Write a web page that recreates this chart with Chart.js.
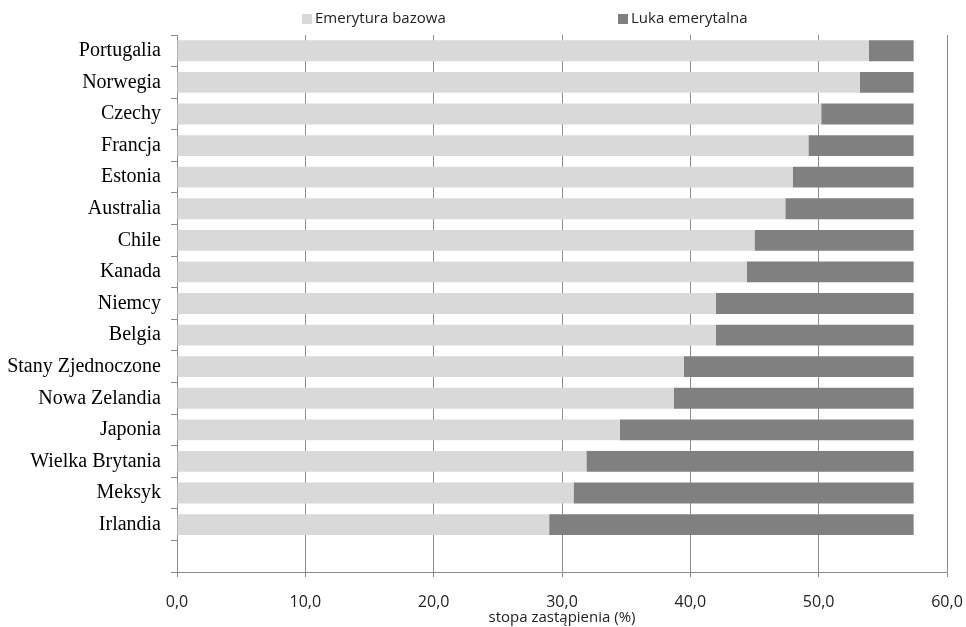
<!DOCTYPE html>
<html>
<head>
<meta charset="utf-8">
<script src="https://cdn.jsdelivr.net/npm/chart.js@4"></script>
<style>
    body { margin: 0; background: #fff; }
</style>
</head>
<body>
<canvas id="myChart" width="966" height="627"></canvas>
<script>
const countries = ['Portugalia', 'Norwegia', 'Czechy', 'Francja', 'Estonia', 'Australia', 'Chile', 'Kanada',
    'Niemcy', 'Belgia', 'Stany Zjednoczone', 'Nowa Zelandia', 'Japonia', 'Wielka Brytania', 'Meksyk', 'Irlandia', ''];
const basePension = [53.9, 53.2, 50.2, 49.2, 48.0, 47.4, 45.0, 44.4, 42.0, 42.0, 39.5, 38.7, 34.5, 31.9, 30.9, 29.0, null];
const pensionGap = [3.5, 4.2, 7.2, 8.2, 9.4, 10.0, 12.4, 13.0, 15.4, 15.4, 17.9, 18.7, 22.9, 25.5, 26.5, 28.4, null];
const seriesNames = ['Emerytura bazowa', 'Luka emerytalna'];
const seriesColors = ['#d9d9d9', '#808080'];

const sansFont = "'Open Sans', 'DejaVu Sans', sans-serif";

// legend drawn by hand, the two items sit far apart
const topLegend = {
    id: 'topLegend',
    afterDraw(chart) {
        const ctx = chart.ctx;
        const spots = [302, 618];
        ctx.save();
        ctx.font = '15px ' + sansFont;
        ctx.textBaseline = 'middle';
        chart.data.datasets.forEach(function (ds, i) {
            ctx.fillStyle = ds.backgroundColor;
            ctx.fillRect(spots[i], 14, 10, 10);
            ctx.fillStyle = '#222';
            ctx.fillText(ds.label, spots[i] + 13, 19);
        });
        ctx.restore();
    }
};

new Chart(document.getElementById('myChart'), {
    type: 'bar',
    data: {
        labels: countries,
        datasets: [
            { label: seriesNames[0], data: basePension, backgroundColor: seriesColors[0] },
            { label: seriesNames[1], data: pensionGap, backgroundColor: seriesColors[1] }
        ]
    },
    options: {
        indexAxis: 'y',
        responsive: false,
        animation: false,
        barPercentage: 0.66,
        categoryPercentage: 1,
        layout: { padding: { top: 35, right: 19, left: 0, bottom: 0 } },
        plugins: {
            legend: { display: false },
            tooltip: { enabled: false }
        },
        scales: {
            x: {
                stacked: true,
                min: 0,
                max: 60,
                ticks: {
                    stepSize: 10,
                    color: '#222',
                    font: { family: sansFont, size: 16 },
                    padding: 16,
                    callback: function (v) { return v.toFixed(1).replace('.', ','); }
                },
                grid: { color: '#8c8c8c', tickLength: 5 },
                border: { color: '#8c8c8c' },
                title: {
                    display: true,
                    text: 'stopa zastąpienia (%)',
                    color: '#222',
                    font: { family: sansFont, size: 15 },
                    padding: { top: 0, bottom: 0 }
                },
                afterFit: function (scale) {
                    scale.height = 55;
                    scale.paddingLeft = 0;
                    scale.paddingRight = 0;
                }
            },
            y: {
                stacked: true,
                ticks: {
                    color: '#000',
                    font: { family: "'Liberation Serif', 'Times New Roman', serif", size: 20 },
                    padding: 10
                },
                grid: { drawOnChartArea: false, color: '#8c8c8c', tickLength: 6 },
                border: { color: '#8c8c8c' },
                afterFit: function (scale) { scale.width = 177; }
            }
        }
    },
    plugins: [topLegend]
});
</script>
</body>
</html>
